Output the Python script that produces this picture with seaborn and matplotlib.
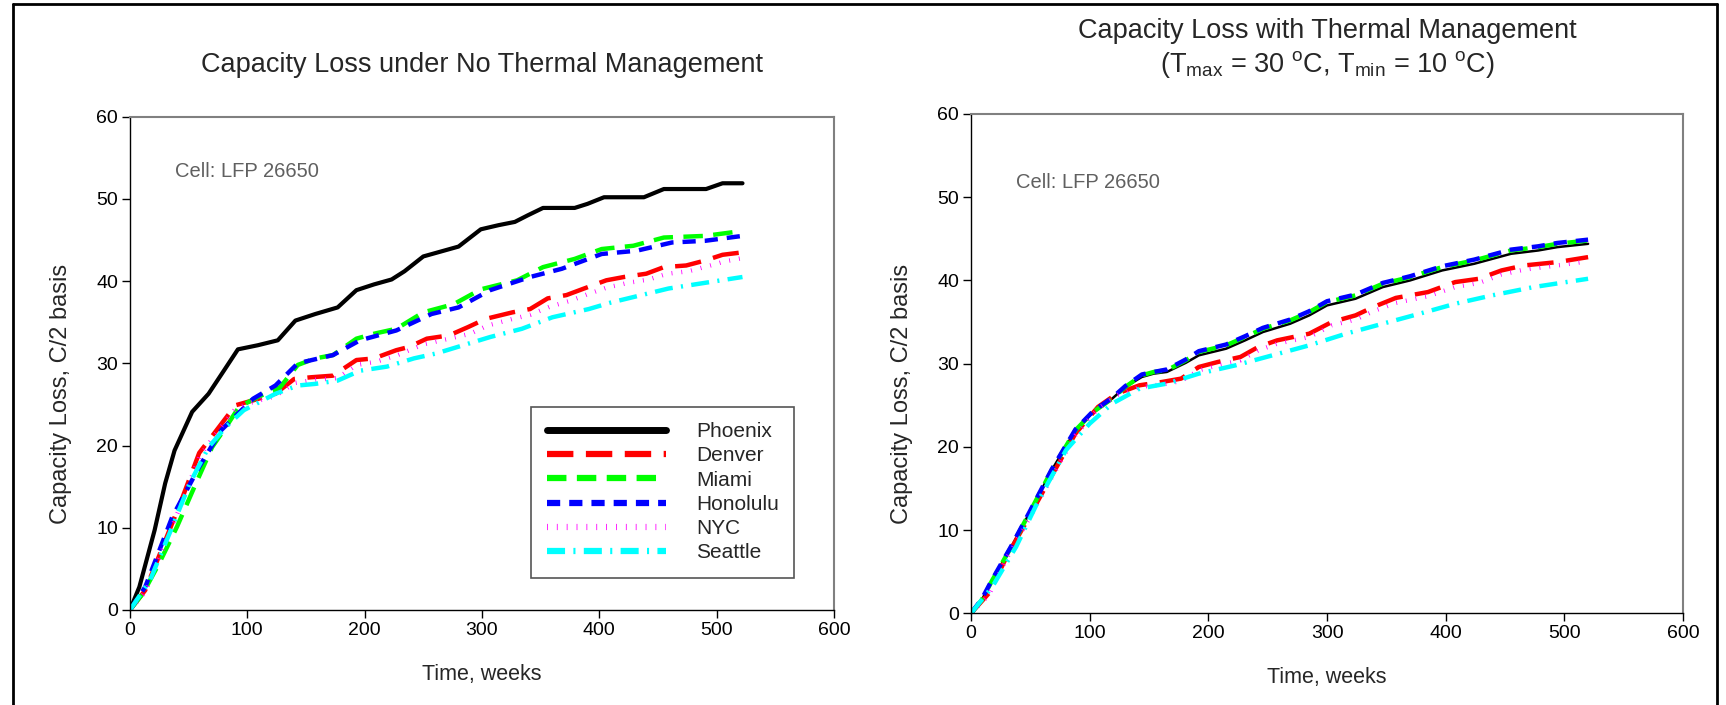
import pandas as pd
import matplotlib.pyplot as plt
import seaborn as sns

# -----------------------------
# Data (time in weeks, capacity loss in %)
# -----------------------------
cities = ["Phoenix", "Denver", "Miami", "Honolulu", "NYC", "Seattle"]

# --- left panel: no thermal management
nt_phoenix_t = [0, 8, 21, 30, 38, 53, 67, 80, 92, 109, 126, 141, 158, 177, 193, 208, 223, 234,
                250, 265, 280, 299, 314, 328, 339, 352, 379, 390, 404, 438, 455, 491, 505, 522]
nt_phoenix_y = [0, 2.8, 9.7, 15.4, 19.4, 24.1, 26.3, 29.1, 31.7, 32.2, 32.8, 35.2, 36.0, 36.8,
                38.9, 39.6, 40.2, 41.2, 43.0, 43.6, 44.2, 46.3, 46.8, 47.2, 48.0, 48.9, 48.9,
                49.4, 50.2, 50.2, 51.2, 51.2, 51.9, 51.9]

nt_denver_t = [0, 13, 28, 44, 59, 74, 90, 105, 124, 140, 154, 173, 193, 208, 227, 238, 253, 272,
               288, 303, 326, 341, 356, 372, 387, 406, 421, 440, 455, 474, 490, 505, 522]
nt_denver_y = [0, 2.4, 7.7, 13.4, 19.1, 21.9, 24.9, 25.5, 26.3, 28.1, 28.3, 28.5, 30.4, 30.6,
               31.6, 32.0, 33.0, 33.4, 34.4, 35.4, 36.2, 36.6, 37.9, 38.3, 39.1, 40.1, 40.5,
               40.9, 41.7, 41.9, 42.5, 43.2, 43.5]

nt_miami_t = [0, 11, 25, 40, 55, 70, 82, 93, 109, 128, 143, 158, 173, 193, 208, 227, 250, 276,
              299, 330, 352, 379, 402, 429, 455, 490, 522]
nt_miami_y = [0, 2.0, 5.7, 10.1, 15.0, 19.8, 22.3, 24.7, 25.9, 27.1, 29.8, 30.6, 31.0, 33.0,
              33.6, 34.2, 36.2, 37.2, 39.0, 40.1, 41.7, 42.7, 43.9, 44.3, 45.3, 45.5, 46.1]

nt_honolulu_t = [0, 13, 36, 59, 78, 105, 124, 143, 173, 196, 227, 257, 280, 307, 341, 368, 402,
                 432, 462, 490, 522]
nt_honolulu_y = [0, 2.8, 11.3, 17.4, 21.9, 25.7, 27.3, 30.0, 31.0, 32.8, 34.0, 36.0, 36.8, 38.9,
                 40.5, 41.5, 43.3, 43.7, 44.7, 44.9, 45.5]

nt_nyc_t = [0, 13, 28, 44, 59, 74, 90, 105, 124, 140, 158, 177, 193, 210, 228, 250, 272, 290,
            305, 326, 341, 358, 375, 390, 406, 425, 442, 458, 476, 492, 507, 522]
nt_nyc_y = [0, 2.2, 7.4, 13.0, 18.6, 21.6, 24.5, 25.3, 26.0, 27.6, 28.0, 28.2, 29.8, 30.2, 31.0,
            32.3, 33.0, 33.6, 34.6, 35.4, 35.9, 36.9, 37.6, 38.4, 39.2, 39.8, 40.2, 40.9, 41.2,
            41.8, 42.4, 42.8]

nt_seattle_t = [0, 17, 36, 51, 67, 82, 97, 124, 143, 158, 177, 196, 219, 242, 261, 284, 307,
                334, 360, 391, 410, 436, 459, 486, 522]
nt_seattle_y = [0, 3.6, 10.1, 15.4, 19.8, 22.3, 24.3, 26.3, 27.3, 27.5, 27.9, 29.1, 29.6, 30.6,
                31.2, 32.2, 33.2, 34.2, 35.6, 36.6, 37.4, 38.3, 39.1, 39.7, 40.5]

# --- right panel: with thermal management
tm_phoenix_t = [0, 9, 18, 34, 49, 68, 88, 103, 119, 130, 144, 154, 165, 181, 192, 215, 231, 246,
                269, 285, 300, 324, 347, 370, 397, 424, 455, 478, 494, 520]
tm_phoenix_y = [0, 1.6, 4.0, 8.0, 12.0, 17.2, 22.0, 24.2, 25.8, 27.2, 28.4, 28.8, 29.0, 30.1,
                31.0, 31.8, 32.8, 33.8, 34.8, 35.8, 37.0, 37.8, 39.2, 40.0, 41.2, 42.0, 43.2,
                43.6, 44.0, 44.4]

tm_denver_t = [0, 15, 30, 49, 69, 88, 107, 123, 142, 161, 177, 192, 208, 227, 242, 258, 285,
               304, 324, 339, 358, 385, 408, 428, 447, 466, 494, 520]
tm_denver_y = [0, 2.4, 6.8, 11.6, 16.8, 21.6, 24.8, 26.4, 27.4, 27.8, 28.2, 29.6, 30.2, 30.8,
               32.0, 32.8, 33.6, 35.0, 35.8, 36.8, 37.9, 38.6, 39.8, 40.2, 41.2, 41.8, 42.2, 42.8]

tm_miami_t = [0, 9, 18, 34, 49, 68, 88, 103, 119, 130, 144, 154, 165, 181, 192, 215, 231, 246,
              269, 285, 300, 324, 347, 370, 397, 424, 455, 478, 494, 520]
tm_miami_y = [0, 1.6, 4.0, 8.0, 12.0, 17.2, 22.0, 24.2, 25.8, 27.2, 28.6, 29.0, 29.2, 30.4,
              31.4, 32.2, 33.2, 34.2, 35.2, 36.2, 37.4, 38.2, 39.6, 40.4, 41.6, 42.4, 43.6,
              44.0, 44.4, 44.8]

tm_honolulu_t = [0, 9, 18, 34, 49, 68, 88, 103, 119, 130, 144, 154, 165, 181, 192, 215, 231, 246,
                 269, 285, 300, 324, 347, 370, 397, 424, 455, 478, 494, 520]
tm_honolulu_y = [0, 1.7, 4.1, 8.1, 12.1, 17.3, 22.1, 24.3, 25.9, 27.3, 28.7, 29.0, 29.3, 30.5,
                 31.5, 32.3, 33.3, 34.3, 35.3, 36.3, 37.5, 38.3, 39.7, 40.5, 41.7, 42.5, 43.7,
                 44.1, 44.5, 44.9]

tm_nyc_t = [0, 15, 30, 49, 69, 88, 107, 123, 142, 161, 177, 192, 208, 227, 242, 258, 285, 304,
            324, 339, 358, 385, 408, 428, 447, 466, 494, 520]
tm_nyc_y = [0, 2.2, 6.6, 11.4, 16.6, 21.4, 24.6, 26.2, 27.2, 27.5, 27.9, 29.2, 29.8, 30.4, 31.6,
            32.4, 33.2, 34.6, 35.3, 36.3, 37.3, 38.1, 39.2, 39.7, 40.7, 41.3, 41.8, 42.3]

tm_seattle_t = [0, 18, 38, 57, 80, 100, 119, 142, 165, 192, 223, 254, 285, 316, 347, 378, 408,
                439, 474, 520]
tm_seattle_y = [0, 3.2, 8.0, 13.6, 19.6, 22.8, 25.2, 27.0, 27.6, 28.8, 29.8, 31.0, 32.2, 33.6,
                34.8, 36.0, 37.2, 38.2, 39.2, 40.2]

no_tm = {
    "Phoenix": (nt_phoenix_t, nt_phoenix_y),
    "Denver": (nt_denver_t, nt_denver_y),
    "Miami": (nt_miami_t, nt_miami_y),
    "Honolulu": (nt_honolulu_t, nt_honolulu_y),
    "NYC": (nt_nyc_t, nt_nyc_y),
    "Seattle": (nt_seattle_t, nt_seattle_y),
}
with_tm = {
    "Phoenix": (tm_phoenix_t, tm_phoenix_y),
    "Denver": (tm_denver_t, tm_denver_y),
    "Miami": (tm_miami_t, tm_miami_y),
    "Honolulu": (tm_honolulu_t, tm_honolulu_y),
    "NYC": (tm_nyc_t, tm_nyc_y),
    "Seattle": (tm_seattle_t, tm_seattle_y),
}

# -----------------------------
# Styles
# -----------------------------
colors = {"Phoenix": "black", "Denver": "#ff0000", "Miami": "#00ff00",
          "Honolulu": "#0000ff", "NYC": "#ff00ff", "Seattle": "#00ffff"}
dashes = {"Phoenix": "-",
          "Denver": (0, (19, 9)),
          "Miami": (0, (14, 7.5)),
          "Honolulu": (0, (9.5, 6.5)),
          "NYC": (0, (0.6, 6.5)),
          "Seattle": (0, (13, 6, 1.5, 6))}

sns.set_style("ticks")
plt.rcParams["font.family"] = ["Liberation Sans", "DejaVu Sans"]
plt.rcParams["lines.scale_dashes"] = False
plt.rcParams["lines.dash_capstyle"] = "butt"


def draw(ax, data, thin_phoenix, legend, ylab_xy):
    for name in cities:
        t, y = data[name]
        df = pd.DataFrame({"Time": t, "Loss": y})
        lw = 3.2
        if name == "Phoenix":
            lw = 1.8 if thin_phoenix else 3.0
        sns.lineplot(data=df, x="Time", y="Loss", ax=ax, color=colors[name],
                     linewidth=lw, linestyle=dashes[name], label=name if legend else None,
                     sort=False, estimator=None, legend=False)
    ax.set_xlim(0, 600)
    ax.set_ylim(0, 60)
    ax.set_xticks(range(0, 601, 100))
    ax.set_yticks(range(0, 61, 10))
    ax.set_xlabel("Time, weeks", fontsize=15.5, labelpad=18)
    ax.set_ylabel("Capacity Loss, C/2 basis", fontsize=17)
    ax.yaxis.set_label_coords(*ylab_xy)
    ax.tick_params(direction="out", length=5.5, width=1, labelsize=14, pad=3, colors="black")
    for side in ["left", "bottom"]:
        ax.spines[side].set_color("black")
        ax.spines[side].set_linewidth(1)
    for side in ["top", "right"]:
        ax.spines[side].set_visible(True)
        ax.spines[side].set_color("#808080")
        ax.spines[side].set_linewidth(1.5)


fig = plt.figure(figsize=(17.26, 7.05), dpi=100)
ax1 = fig.add_axes([0.0753, 0.1348, 0.4079, 0.6997])
ax2 = fig.add_axes([0.5626, 0.1301, 0.4125, 0.7082])

draw(ax1, no_tm, False, True, (-0.082, 0.437))
draw(ax2, with_tm, True, False, (-0.081, 0.44))

ax1.set_title("Capacity Loss under No Thermal Management", fontsize=19.5, pad=32)
ax2.set_title("Capacity Loss with Thermal Management\n"
              r"(T$_{\mathregular{max}}$ = 30 $^{\mathregular{o}}$C, "
              r"T$_{\mathregular{min}}$ = 10 $^{\mathregular{o}}$C)",
              fontsize=19.5, pad=30, linespacing=1.25)

ax1.text(38, 53.3, "Cell: LFP 26650", fontsize=14.5, color="#606060", va="center")
ax2.text(38, 51.8, "Cell: LFP 26650", fontsize=14.5, color="#606060", va="center")

leg = ax1.legend(loc="lower left", bbox_to_anchor=(0.57, 0.065), fontsize=15,
                 handlelength=5.7, handletextpad=1.45, labelspacing=0.25,
                 borderpad=0.75, borderaxespad=0, fancybox=False, framealpha=1)
leg.get_frame().set_edgecolor("#555555")
leg.get_frame().set_linewidth(1.2)
for line in leg.get_lines():
    if line.get_label() == "Phoenix":
        line.set_linewidth(5)
    else:
        line.set_linewidth(4.5)

# outer frame of the figure (left, top, right)
fig.add_artist(plt.Line2D([13 / 1726, 13 / 1726], [0, 1 - 4 / 705], color="black", lw=2,
                          transform=fig.transFigure))
fig.add_artist(plt.Line2D([13 / 1726, 1717 / 1726], [1 - 4 / 705, 1 - 4 / 705], color="black",
                          lw=2, transform=fig.transFigure))
fig.add_artist(plt.Line2D([1717 / 1726, 1717 / 1726], [0, 1 - 4 / 705], color="black", lw=2,
                          transform=fig.transFigure))

plt.savefig("out.png", dpi=100)
